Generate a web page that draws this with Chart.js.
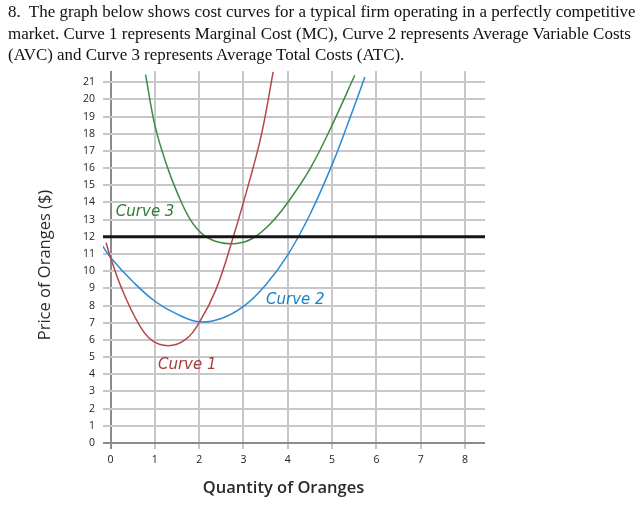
<!DOCTYPE html>
<html>
<head>
<meta charset="utf-8">
<script src="https://cdn.jsdelivr.net/npm/chart.js@4.4.1/dist/chart.umd.min.js"></script>
<style>
  html, body { margin: 0; padding: 0; background: #fff; }
  #wrap { position: relative; width: 644px; height: 517px; overflow: hidden; }
  #c { position: absolute; left: 0; top: 0; }
  #q {
    position: absolute; left: 8px; top: 1px;
    font-family: "Liberation Serif", serif; font-size: 17px; line-height: 21.5px;
    color: #111; white-space: nowrap;
  }
</style>
</head>
<body>
<div id="wrap">
  <canvas id="c" width="644" height="517"></canvas>
  <div id="q"><span id="l1">8.&nbsp; The graph below shows cost curves for a typical firm operating in a perfectly competitive</span><br>market. Curve 1 represents Marginal Cost (MC), Curve 2 represents Average Variable Costs<br>(AVC) and Curve 3 represents Average Total Costs (ATC).</div>
</div>
<script>
// tick labels
const xTicks = [0, 1, 2, 3, 4, 5, 6, 7, 8];
const yTicks = [0, 1, 2, 3, 4, 5, 6, 7, 8, 9, 10, 11, 12, 13, 14, 15, 16, 17, 18, 19, 20, 21];

// Curve 1 - MC
const mcX = [-0.1, 0, 0.25, 0.62, 0.92, 1.3, 1.68, 2.0, 2.39, 2.77, 3.14, 3.41, 3.67];
const mcY = [11.65, 10.8, 9, 7, 6, 5.66, 6, 7, 9, 12, 15.3, 18, 21.6];

// Curve 2 - AVC
const avcX = [-0.19, 0, 0.5, 1.0, 1.5, 2.0, 2.5, 3.0, 3.5, 4.0, 4.5, 5.0, 5.4, 5.74];
const avcY = [11.5, 10.8, 9.4, 8.25, 7.5, 7.05, 7.25, 7.95, 9.2, 10.95, 13.3, 16.2, 18.9, 21.3];

// Curve 3 - ATC
const atcX = [0.79, 1.0, 1.25, 1.5, 1.8, 2.1, 2.45, 2.84, 3.2, 3.6, 4.0, 4.5, 5.0, 5.51];
const atcY = [21.44, 18.5, 16.3, 14.6, 13.0, 12.1, 11.68, 11.61, 11.9, 12.75, 14.0, 15.95, 18.5, 21.4];

// market price
const price = 12;

const xMin = -0.17, xMax = 8.45, yMin = -0.35, yMax = 21.65;

// fit the question text to the width of the original
const l1 = document.getElementById('l1');
const q = document.getElementById('q');
q.style.fontSize = (17 * 628 / l1.getBoundingClientRect().width) + 'px';

const pts = (xs, ys) => xs.map((x, i) => ({ x, y: ys[i] }));

const annotations = {
  id: 'annotations',
  afterDraw(chart) {
    const { ctx, scales: { x, y } } = chart;
    const items = [
      { text: 'Curve 3', x: 0.12, y: 13.43, color: '#2f7d35' },
      { text: 'Curve 2', x: 3.51, y: 8.31, color: '#1b7fc6' },
      { text: 'Curve 1', x: 1.07, y: 4.53, color: '#a83b3c' }
    ];
    ctx.save();
    ctx.font = 'oblique 15px "DejaVu Sans"';
    ctx.textBaseline = 'middle';
    items.forEach(l => {
      ctx.fillStyle = l.color;
      ctx.fillText(l.text, x.getPixelForValue(l.x), y.getPixelForValue(l.y));
    });

    // axis titles
    ctx.fillStyle = '#2a2a2a';
    ctx.textAlign = 'center';
    ctx.font = '600 16.5px "Open Sans"';
    ctx.fillText('Quantity of Oranges', 283.5, 488);
    ctx.translate(45, 265);
    ctx.rotate(-Math.PI / 2);
    ctx.font = '500 16.5px "Open Sans"';
    ctx.fillText('Price of Oranges ($)', 0, 0);
    ctx.restore();
  }
};

const gridColor = ctx => (ctx.tick && ctx.tick.value === 0) ? '#8a8a92' : '#c6c6cb';

new Chart(document.getElementById('c'), {
  type: 'line',
  data: {
    datasets: [
      {
        label: 'Price',
        data: [{ x: xMin, y: price }, { x: xMax, y: price }],
        borderColor: '#151515', borderWidth: 3, pointRadius: 0, tension: 0
      },
      {
        label: 'MC',
        data: pts(mcX, mcY),
        borderColor: '#b5474a', borderWidth: 1.5, pointRadius: 0, tension: 0.4
      },
      {
        label: 'AVC',
        data: pts(avcX, avcY),
        borderColor: '#2b8ad4', borderWidth: 1.5, pointRadius: 0, tension: 0.4
      },
      {
        label: 'ATC',
        data: pts(atcX, atcY),
        borderColor: '#3d8b3f', borderWidth: 1.5, pointRadius: 0, tension: 0.4
      }
    ]
  },
  options: {
    responsive: false,
    animation: false,
    layout: { padding: { left: 36, top: 71, right: 159, bottom: 21 } },
    plugins: { legend: { display: false }, tooltip: { enabled: false } },
    scales: {
      x: {
        type: 'linear', min: xMin, max: xMax,
        afterBuildTicks: s => { s.ticks = xTicks.map(v => ({ value: v })); },
        afterFit: s => { s.height = 47; },
        border: { display: false },
        grid: { color: gridColor, lineWidth: 2, drawTicks: false },
        ticks: { padding: 5, color: '#222', font: { family: 'Open Sans', size: 10.5 }, maxRotation: 0 }
      },
      y: {
        type: 'linear', min: yMin, max: yMax,
        afterBuildTicks: s => { s.ticks = yTicks.map(v => ({ value: v })); },
        afterFit: s => { s.width = 67; },
        border: { display: false },
        grid: { color: gridColor, lineWidth: 2, drawTicks: false },
        ticks: { padding: 8, color: '#222', font: { family: 'Open Sans', size: 10.5 } }
      }
    }
  },
  plugins: [annotations]
});
</script>
</body>
</html>
